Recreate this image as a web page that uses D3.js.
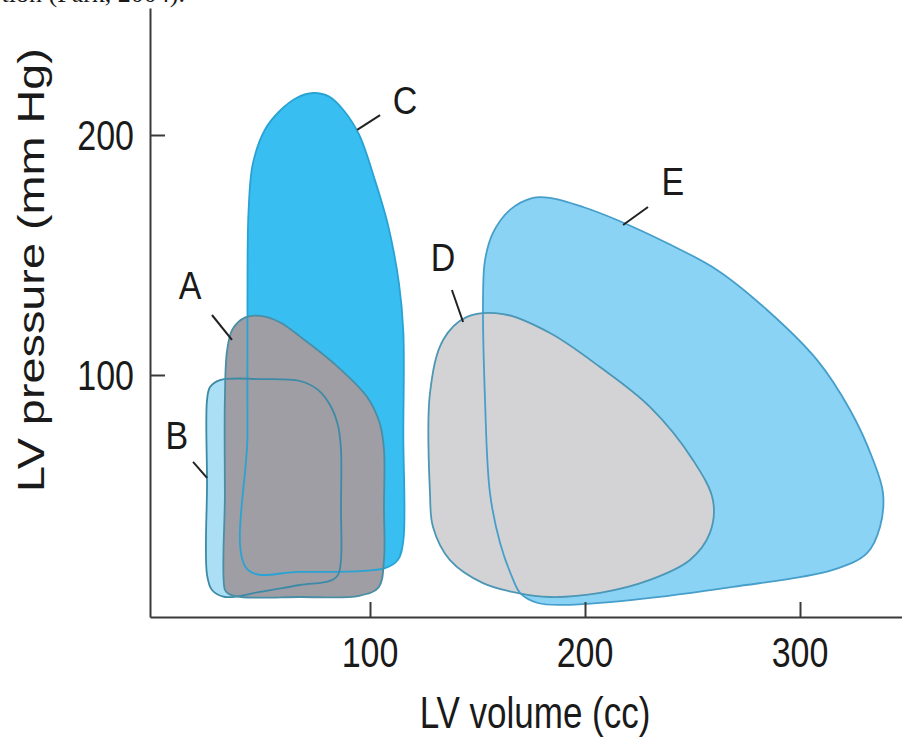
<!DOCTYPE html>
<html><head><meta charset="utf-8">
<script src="https://cdn.jsdelivr.net/npm/d3@7"></script>
<style>body{margin:0;background:#fff}svg{display:block}text{font-family:"Liberation Sans",Arial,sans-serif;fill:#1a1a1a}</style>
</head><body><svg id="chart" width="902" height="741"></svg>
<script>
// ---- data (LV volume in cc, LV pressure in mm Hg) ----
const xTicks = [100, 200, 300];
const yTicks = [100, 200];
const xTitle = "LV volume (cc)";
const yTitle = "LV pressure (mm Hg)";
const loopNames = ["C", "B", "A", "E", "D"];
const loopC = [[43,19],[43,75],[43,130],[43.5,168],[45.5,188],[51,202],[58,210],[66,215.5],[73.5,217.5],[81,216],[88,210],[95,200],[102,182],[108.5,162],[113.5,138],[115.5,118],[115.5,75],[115.5,31],[113,23],[107,19.5],[67,18]];
const loopB = [[24.2,16.7],[26.5,10.4],[32.6,7.5],[48.8,9.6],[67.4,12.5],[81.4,14.2],[85.1,16.7],[86.5,23],[86.5,45],[86.5,69],[85.1,79],[81.4,87.5],[75.8,93.8],[67.4,97.5],[48.8,98.3],[30.2,97.9],[25.6,95],[24.2,89.6],[24.2,55]];
const loopA = [[32.5,10.5],[32.5,50],[32.5,90],[33.5,110],[36,119],[42,124],[49,124.6],[58,122],[67.5,116],[83,105],[98.5,91],[104.5,80],[106.5,69],[106.5,45],[106.5,23],[104,11.5],[95,8],[67,7.5],[40,7.5],[34,9]];
const loopE = [[152.6,134.2],[153.5,147.9],[157.2,159.2],[165.1,168.8],[175.8,173.8],[183.7,173.8],[199.1,170],[214.9,164.6],[238.1,155],[261.4,143.8],[284.7,127.1],[307.9,106.3],[323.3,85.4],[334,64.6],[338.6,50.8],[337.2,36.7],[331.2,25.8],[315.3,18.8],[268.8,11.7],[222.3,6.3],[190,4.2],[178,5],[170,9],[166,16],[160.5,30],[155.8,50.8],[153.5,89.6]];
const loopD = [[127.9,50.8],[127.9,92.5],[134,114.6],[145.1,124.2],[161.9,125.4],[183.7,117.5],[207,103.3],[230.2,86.7],[250.2,64.6],[259.5,47.9],[258.1,34.2],[248.8,22.9],[230.2,14.6],[207,9.2],[183.7,7.5],[168.4,9.2],[152.6,13.3],[137.2,22.9],[129.3,36.7]];
const loops = {A: loopA, B: loopB, C: loopC, D: loopD, E: loopE};
const caption = "tion (Park, 2004).";

// ---- drawing ----
const svg = d3.select("#chart");
const x = d3.scaleLinear().domain([0, 300]).range([155, 800]);
const y = d3.scaleLinear().domain([0, 200]).range([615, 135]);
const SY = 1.25; // vertical stretch of the original artwork

const fills = {A:"#9e9ea4", B:"#abdff5", C:"#38bef0", D:"#d3d3d6", E:"#8bd3f5"};
const strokes = {A:"#4a8ea6", B:"#3c8aa6", C:"#2aa3d4", D:"#4c97b5", E:"#469fca"};

const line = d3.line().x(d => x(d[0])).y(d => y(d[1])).curve(d3.curveCatmullRomClosed.alpha(0.5));

const gF = svg.append("g");
loopNames.forEach(n => gF.append("path").attr("d", line(loops[n])).attr("fill", fills[n]).attr("stroke", "none"));
const gS = svg.append("g");
loopNames.forEach(n => gS.append("path").attr("d", line(loops[n])).attr("fill", "none").attr("stroke", strokes[n]).attr("stroke-width", 1.8));

// axes
const xa = x.copy().domain([x.invert(150), x.invert(902)]).range([150, 902]);
const ya = y.copy().domain([y.invert(617), y.invert(8)]).range([617, 8]);
const gx = svg.append("g").attr("transform", "translate(0,617)")
  .call(d3.axisBottom(xa).tickValues(xTicks).tickSizeInner(-15).tickSizeOuter(0).tickFormat(""));
const gy = svg.append("g").attr("transform", "translate(150,0)")
  .call(d3.axisLeft(ya).tickValues(yTicks).tickSizeInner(-15).tickSizeOuter(0).tickFormat(""));
[gx, gy].forEach(g => { g.selectAll("path,line").attr("stroke", "#3a3a3a").attr("stroke-width", 2); });

function stxt(px, py, str, size, anchor, sy) {
  return svg.append("text").attr("transform", `translate(${px},${py}) scale(1,${sy})`)
    .attr("text-anchor", anchor).style("font-size", size + "px").text(str);
}
xTicks.forEach(t => stxt(x(t), 667, String(t), 34, "middle", SY));
yTicks.forEach(t => stxt(134, y(t) + 15, String(t), 34, "end", SY));
stxt(535, 728, xTitle, 35, "middle", SY);
svg.append("text").attr("transform", "translate(44,270) rotate(-90) scale(1.3,1)")
  .attr("text-anchor", "middle").style("font-size", "36px").text(yTitle);

// loop labels with leader lines (anchors in data units)
const ann = [
  {n:"A", t:[16.3,137.5], a:[26.5,125], b:[35.8,114.6]},
  {n:"B", t:[10.2,75], a:[17.7,63.8], b:[24.2,57.1]},
  {n:"C", t:[116.3,214.6], a:[104.7,208.3], b:[94,202.1]},
  {n:"D", t:[134,149.2], a:[138.1,135.4], b:[143.3,122.1]},
  {n:"E", t:[240.9,180.8], a:[229.3,170], b:[217.7,162.5]}
];
ann.forEach(o => {
  svg.append("line").attr("x1", x(o.a[0])).attr("y1", y(o.a[1])).attr("x2", x(o.b[0])).attr("y2", y(o.b[1]))
    .attr("stroke", "#222").attr("stroke-width", 2);
  stxt(x(o.t[0]), y(o.t[1]) + 14, o.n, 34, "middle", 1.15);
});

// cut-off caption from the source page (cropped at the top edge, as in the original)
svg.append("text").attr("x", 185).attr("y", 2).attr("text-anchor", "end")
  .style("font-family", "'Liberation Serif','Times New Roman',serif").style("font-size", "26px").text(caption);
</script></body></html>
